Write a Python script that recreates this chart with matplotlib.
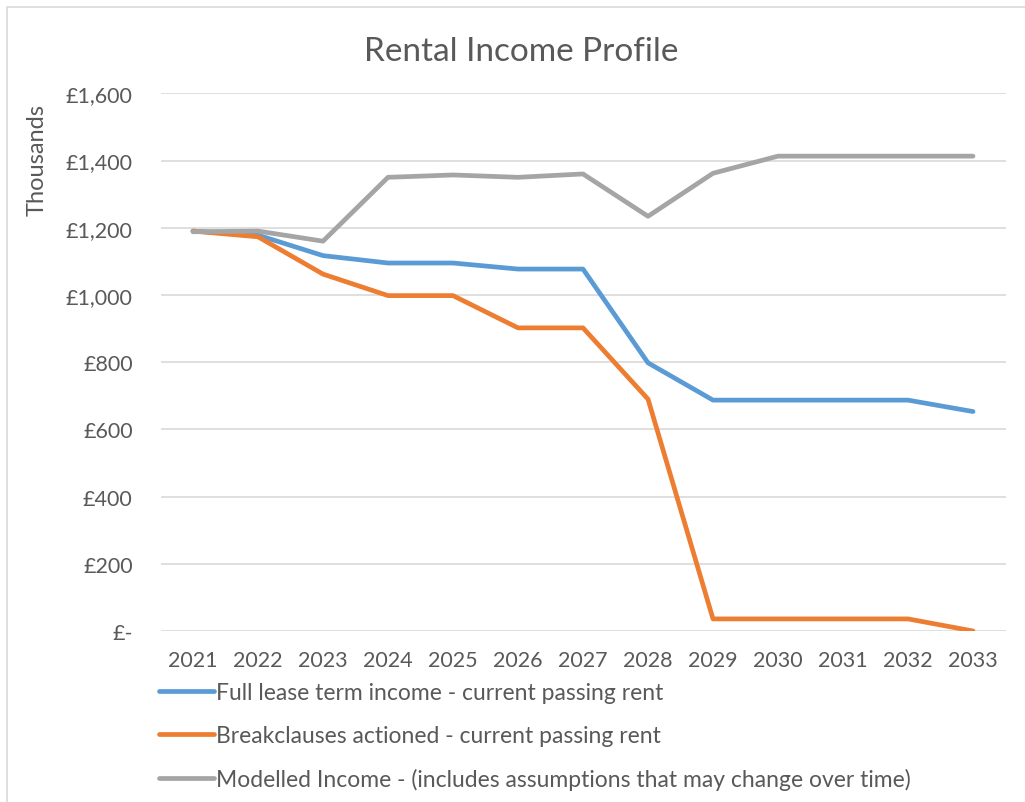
import matplotlib.pyplot as plt
from matplotlib.patches import Rectangle
from matplotlib.ticker import FuncFormatter

years = [2021, 2022, 2023, 2024, 2025, 2026, 2027, 2028, 2029, 2030, 2031, 2032, 2033]
full_lease = [1190, 1178, 1117, 1095, 1095, 1077, 1077, 798, 687, 687, 687, 687, 653]
breakclauses = [1190, 1173, 1062, 998, 998, 902, 902, 690, 36, 36, 36, 36, 0]
modelled = [1188, 1190, 1160, 1350, 1357, 1350, 1360, 1234, 1362, 1413, 1413, 1413, 1413]

labels = [
    "Full lease term income - current passing rent",
    "Breakclauses actioned - current passing rent",
    "Modelled Income - (includes assumptions that may change over time)",
]
colors = ["#5B9BD5", "#ED7D31", "#A5A5A5"]
TEXT = "#595959"
GRID = "#D9D9D9"

plt.rcParams['font.family'] = ['Lato', 'DejaVu Sans']

W, H = 1025, 803
fig = plt.figure(figsize=(W / 100, H / 100), dpi=100)

# chart area border (cut off at right and bottom)
fig.patches.append(Rectangle((7 / W, -0.05), 1.2, 1 - 8 / H + 0.05, transform=fig.transFigure,
                             fill=False, edgecolor=GRID, linewidth=1.2))

ax = fig.add_axes([160.5 / W, 1 - 632 / H, (1005.5 - 160.5) / W, (632 - 94.3) / H])

x = list(range(len(years)))
for series, lab, col in zip([full_lease, breakclauses, modelled], labels, colors):
    ax.plot(x, series, color=col, linewidth=3.4, label=lab, solid_capstyle='round')

ax.set_xlim(-0.5, len(years) - 0.5)
ax.set_ylim(0, 1600)
ax.set_yticks(range(0, 1601, 200))
ax.yaxis.set_major_formatter(FuncFormatter(lambda v, p: "£-" if v == 0 else "£{:,.0f}".format(v)))
ax.set_xticks(x)
ax.set_xticklabels([str(y) for y in years])
ax.grid(axis='y', color=GRID, linewidth=1.2)
ax.set_axisbelow(True)
for s in ax.spines.values():
    s.set_visible(False)
ax.tick_params(axis='both', length=0, labelsize=15.5, colors=TEXT)
ax.tick_params(axis='x', pad=14)
ax.tick_params(axis='y', pad=20)

fig.text(521 / W, 1 - 52 / H, "Rental Income Profile", ha='center', va='center',
         fontsize=24, color=TEXT)
fig.text(37 / W, 1 - 160 / H, "Thousands", rotation=90, ha='center', va='center',
         fontsize=17, color=TEXT)

leg = ax.legend(loc='upper left', bbox_to_anchor=(150 / W, 1 - 674 / H),
                bbox_transform=fig.transFigure, frameon=False, fontsize=16.5,
                handlelength=2.4, handletextpad=0.1, labelspacing=0.95, borderaxespad=0)
for t in leg.get_texts():
    t.set_color(TEXT)

fig.savefig("out.png", dpi=100)
